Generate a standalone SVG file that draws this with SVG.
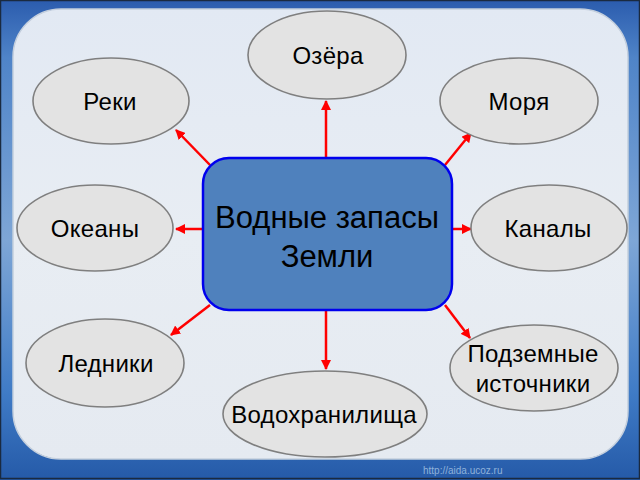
<svg xmlns="http://www.w3.org/2000/svg" width="640" height="480" viewBox="0 0 640 480">
<defs>
<linearGradient id="bg" x1="0" y1="0" x2="0" y2="1">
<stop offset="0" stop-color="#2b5cae"/>
<stop offset="0.12" stop-color="#4f84c8"/>
<stop offset="0.5" stop-color="#7ea6d6"/>
<stop offset="0.82" stop-color="#3f7bc6"/>
<stop offset="1" stop-color="#255aa8"/>
</linearGradient>
<linearGradient id="panel" x1="0" y1="0" x2="0" y2="1">
<stop offset="0" stop-color="#e2e9f3"/>
<stop offset="0.5" stop-color="#e8edf3"/>
<stop offset="1" stop-color="#e5eaf1"/>
</linearGradient>
<marker id="ah" viewBox="0 0 10 10" refX="9" refY="5" markerWidth="4" markerHeight="4" orient="auto" markerUnits="strokeWidth">
<path d="M0,0 L10,5 L0,10 z" fill="#ff0000"/>
</marker>
<style>
.node ellipse{fill:#e3e3e3;stroke:#7f7f7f;stroke-width:1.6}
.lbl{font-family:"Liberation Sans",Arial,sans-serif;font-size:24px;letter-spacing:0.3px;fill:#000;text-anchor:middle}
.big{font-family:"Liberation Sans",Arial,sans-serif;font-size:31px;fill:#000;text-anchor:middle}
#connectors line{stroke:#ff0000;stroke-width:2.5;marker-end:url(#ah)}
</style>
</defs>
<rect x="0" y="0" width="640" height="480" fill="url(#bg)"/>
<rect x="0.5" y="0.5" width="639" height="478" fill="none" stroke="#1a2a40" stroke-width="1.5"/>
<rect x="13" y="9" width="615" height="450" rx="48" ry="48" fill="url(#panel)" stroke="#c4cfdd" stroke-width="1.5"/>
<text x="423" y="474" font-family="Liberation Sans, Arial, sans-serif" font-size="10" fill="#8fb2da">http://aida.ucoz.ru</text>
<g id="connectors">
<line x1="326" y1="158" x2="326" y2="101"/>
<line x1="210" y1="165" x2="176" y2="130"/>
<line x1="445" y1="165" x2="471" y2="133"/>
<line x1="203" y1="229" x2="176" y2="229"/>
<line x1="452" y1="229" x2="471" y2="229"/>
<line x1="210" y1="305" x2="171" y2="335"/>
<line x1="326" y1="310" x2="326" y2="369"/>
<line x1="445" y1="305" x2="470" y2="338"/>
</g>
<g id="center">
<rect x="203" y="158" width="249" height="152" rx="26" ry="26" fill="#4f81bd" stroke="#0000ee" stroke-width="2.5"/>
<text class="big" x="327" y="228">Водные запасы</text>
<text class="big" x="327" y="267">Земли</text>
</g>
<g id="ozera" class="node"><ellipse cx="327" cy="55" rx="79" ry="44"/><text class="lbl" x="328" y="64">Озёра</text></g>
<g id="reki" class="node"><ellipse cx="111" cy="101" rx="78" ry="43"/><text class="lbl" x="110" y="110">Реки</text></g>
<g id="morya" class="node"><ellipse cx="519" cy="101" rx="79" ry="43"/><text class="lbl" x="519" y="110">Моря</text></g>
<g id="okeany" class="node"><ellipse cx="95" cy="228" rx="78" ry="43"/><text class="lbl" x="95" y="237">Океаны</text></g>
<g id="kanaly" class="node"><ellipse cx="549" cy="228" rx="78" ry="43"/><text class="lbl" x="548" y="237">Каналы</text></g>
<g id="ledniki" class="node"><ellipse cx="105" cy="363" rx="79" ry="44"/><text class="lbl" x="106" y="372">Ледники</text></g>
<g id="podzemnye" class="node"><ellipse cx="534" cy="368" rx="84" ry="43"/><text class="lbl" x="533" y="362">Подземные</text><text class="lbl" x="533" y="392">источники</text></g>
<g id="vodohranilishcha" class="node"><ellipse cx="325" cy="414" rx="102" ry="43"/><text class="lbl" x="324" y="423">Водохранилища</text></g>
</svg>
